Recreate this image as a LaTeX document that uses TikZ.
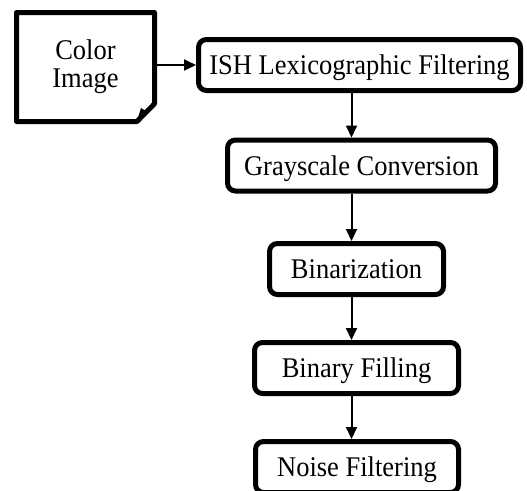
\documentclass[tikz,border=0pt]{standalone}
\usepackage{fontspec}
\setmainfont{Liberation Serif}[FakeStretch=0.93]
\usetikzlibrary{arrows.meta}

\tikzset{
  stage/.style={draw, line width=5pt, rounded corners=8pt, minimum height=51pt,
    inner sep=0pt, text height=19pt, text depth=0pt, font=\fontsize{28.5}{28}\selectfont},
  flow/.style={line width=2pt, -{Triangle[length=12pt,width=11pt]}}
}

\begin{document}
\begin{tikzpicture}[x=1pt,y=-1pt]
\useasboundingbox (0,0) rectangle (527,490);
\clip (0,0) rectangle (527,490);
% input document
\node[minimum width=138pt, minimum height=109pt, inner sep=0pt, outer sep=0pt,
  align=center, font=\fontsize{28.5}{28}\selectfont] (img) at (85.5,67) {Color\\Image};
\draw[line width=5pt, line join=round] (img.north west) -- (img.north east)
  -- ([yshift=17.75pt]img.south east) -- ([xshift=-17.5pt]img.south east)
  -- (img.south west) -- cycle;
\fill (137,121) -- (141,108) -- (147,111.6) -- cycle;
%
\node[stage, minimum width=322pt] (ish) at (359.5,65) {ISH Lexicographic Filtering};
\node[stage, minimum width=268pt] (gray) at (361.5,165.5) {Grayscale Conversion};
\node[stage, minimum width=174pt] (bin) at (356.5,269) {Binarization};
\node[stage, minimum width=204pt] (fill) at (356.5,368) {Binary Filling};
\node[stage, minimum width=203pt] (noise) at (357,467) {Noise Filtering};
%
\coordinate (spine) at (351.5,0);
\draw[flow] (img.east |- ish.west) -- (ish.west);
\draw[flow] (ish.south -| spine) -- (gray.north -| spine);
\draw[flow] (gray.south -| spine) -- (bin.north -| spine);
\draw[flow] (bin.south -| spine) -- (fill.north -| spine);
\draw[flow] (fill.south -| spine) -- (noise.north -| spine);
\end{tikzpicture}
\end{document}
